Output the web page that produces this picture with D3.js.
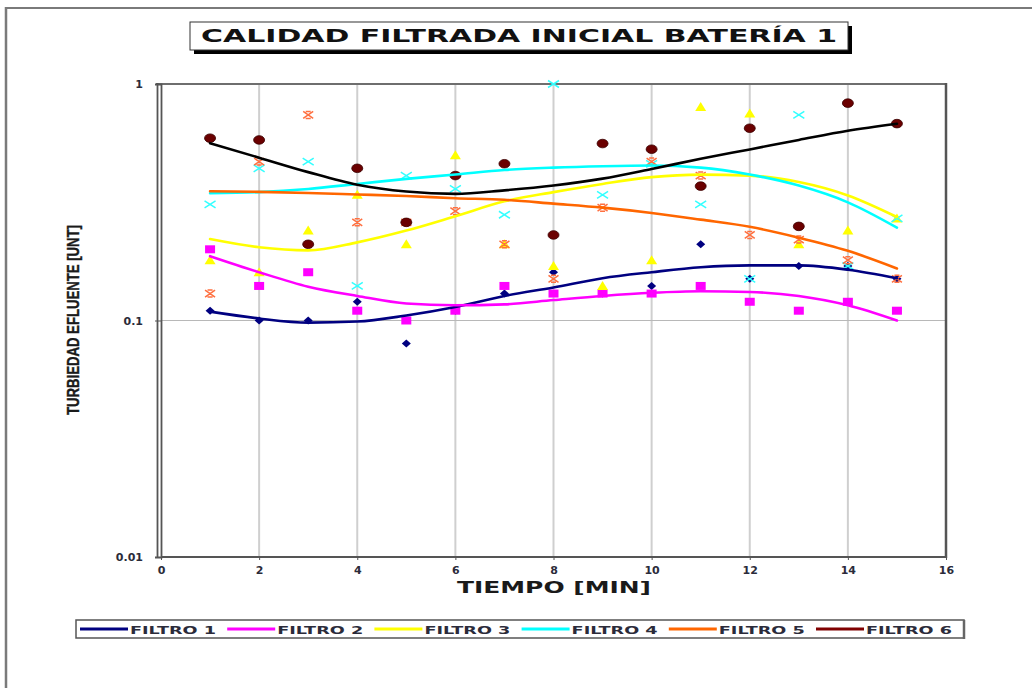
<!DOCTYPE html>
<html>
<head>
<meta charset="utf-8">
<script src="https://cdn.jsdelivr.net/npm/d3@7"></script>
<style>
  html, body { margin: 0; padding: 0; background: #fff; }
  svg { display: block; }
</style>
</head>
<body>
<svg id="chart" width="1032" height="688"></svg>
<script>
// Sampling times (minutes)
const tiempos = [1, 2, 3, 4, 5, 6, 7, 8, 9, 10, 11, 12, 13, 14, 15];

// Measured effluent turbidity per filter (UNT)
const filtro1 = [0.11, 0.10, 0.10, 0.12, 0.08, 0.11, 0.13, 0.16, 0.13, 0.14, 0.21, 0.15, 0.17, 0.17, 0.15];
const filtro2 = [0.20, 0.14, 0.16, 0.11, 0.10, 0.11, 0.14, 0.13, 0.13, 0.13, 0.14, 0.12, 0.11, 0.12, 0.11];
const filtro3 = [0.18, 0.16, 0.24, 0.34, 0.21, 0.50, 0.21, 0.17, 0.14, 0.18, 0.80, 0.75, 0.21, 0.24, 0.27];
const filtro4 = [0.31, 0.44, 0.47, 0.14, 0.41, 0.36, 0.28, 1.00, 0.34, 0.46, 0.31, 0.15, 0.74, 0.17, 0.27];
const filtro5 = [0.13, 0.47, 0.74, 0.26, 0.26, 0.29, 0.21, 0.15, 0.30, 0.47, 0.41, 0.23, 0.22, 0.18, 0.15];
const filtro6 = [0.59, 0.58, 0.21, 0.44, 0.26, 0.41, 0.46, 0.23, 0.56, 0.53, 0.37, 0.65, 0.25, 0.83, 0.68];

// Polynomial trend curves for each filter, evaluated at the sampling times
const tendencia1 = [0.109, 0.102, 0.098, 0.099, 0.105, 0.114, 0.127, 0.138, 0.151, 0.160, 0.168, 0.171, 0.171, 0.164, 0.151];
const tendencia2 = [0.187, 0.160, 0.139, 0.127, 0.118, 0.116, 0.117, 0.122, 0.127, 0.131, 0.133, 0.132, 0.127, 0.116, 0.100];
const tendencia3 = [0.221, 0.204, 0.198, 0.214, 0.240, 0.276, 0.319, 0.349, 0.378, 0.404, 0.414, 0.410, 0.385, 0.338, 0.274];
const tendencia4 = [0.345, 0.349, 0.360, 0.378, 0.397, 0.414, 0.433, 0.443, 0.449, 0.452, 0.443, 0.414, 0.372, 0.316, 0.247];
const tendencia5 = [0.352, 0.350, 0.346, 0.341, 0.336, 0.329, 0.324, 0.312, 0.300, 0.285, 0.267, 0.249, 0.224, 0.197, 0.166];
const tendencia6 = [0.562, 0.488, 0.424, 0.375, 0.351, 0.343, 0.355, 0.372, 0.398, 0.437, 0.483, 0.529, 0.580, 0.634, 0.679];

const nombres = ["FILTRO 1", "FILTRO 2", "FILTRO 3", "FILTRO 4", "FILTRO 5", "FILTRO 6"];
const ticksX = [0, 2, 4, 6, 8, 10, 12, 14, 16];
const ticksY = [0.01, 0.1, 1];
const etiquetasY = ["0.01", "0.1", "1"];

const titulo = "CALIDAD FILTRADA INICIAL BATERÍA 1";
const tituloX = "TIEMPO [MIN]";
const tituloY = "TURBIEDAD EFLUENTE [UNT]";

const series = [
  { nombre: nombres[0], valores: filtro1, tendencia: tendencia1, linea: "#000080", marca: "#000080", forma: "diamante" },
  { nombre: nombres[1], valores: filtro2, tendencia: tendencia2, linea: "#ff00ff", marca: "#ff00ff", forma: "cuadro" },
  { nombre: nombres[2], valores: filtro3, tendencia: tendencia3, linea: "#ffff00", marca: "#ffff00", forma: "triangulo" },
  { nombre: nombres[3], valores: filtro4, tendencia: tendencia4, linea: "#00ffff", marca: "#33ffff", forma: "equis" },
  { nombre: nombres[4], valores: filtro5, tendencia: tendencia5, linea: "#ff6600", marca: "#ff7040", forma: "asterisco" },
  { nombre: nombres[5], valores: filtro6, tendencia: tendencia6, linea: "#000000", marca: "#6b0000", forma: "circulo", leyenda: "#800000" }
];

const svg = d3.select("#chart");
const fontBold = "'DejaVu Sans', Verdana, sans-serif";
const colorTexto = "#2b2b3a";

// Page frame
svg.append("line").attr("x1", 5).attr("x2", 1032).attr("y1", 8).attr("y2", 8)
  .attr("stroke", "#7a7a7a").attr("stroke-width", 2);
svg.append("line").attr("x1", 6).attr("x2", 6).attr("y1", 7).attr("y2", 688)
  .attr("stroke", "#7a7a7a").attr("stroke-width", 2.5);

// Scales
const x = d3.scaleLinear().domain([0, 16]).range([161, 946]);
const y = d3.scaleLog().domain([0.01, 1]).range([557, 84]);

// Vertical gridlines
svg.append("g").selectAll("line")
  .data(ticksX.filter(t => t > 0 && t < 16))
  .join("line")
  .attr("x1", d => x(d)).attr("x2", d => x(d))
  .attr("y1", y(1)).attr("y2", y(0.01))
  .attr("stroke", "#cfcfcf").attr("stroke-width", 2);

// Horizontal gridline at 0.1
svg.append("line")
  .attr("x1", x(0)).attr("x2", x(16))
  .attr("y1", y(0.1)).attr("y2", y(0.1))
  .attr("stroke", "#b8b8b8").attr("stroke-width", 1);

// Plot area border
svg.append("line").attr("x1", 156).attr("x2", x(16)).attr("y1", y(1)).attr("y2", y(1))
  .attr("stroke", "#6e6e6e").attr("stroke-width", 2);
svg.append("line").attr("x1", x(0)).attr("x2", x(16) + 1).attr("y1", y(0.01)).attr("y2", y(0.01))
  .attr("stroke", "#555").attr("stroke-width", 2);
svg.append("line").attr("x1", x(16)).attr("x2", x(16)).attr("y1", y(1) - 1).attr("y2", y(0.01) + 1)
  .attr("stroke", "#555").attr("stroke-width", 2.5);
// Double left axis line
svg.append("line").attr("x1", 157.5).attr("x2", 157.5).attr("y1", y(1) - 1).attr("y2", y(0.01))
  .attr("stroke", "#555").attr("stroke-width", 1.8);

// Axes
const ejeY = svg.append("g").attr("transform", `translate(${x(0)},0)`)
  .call(d3.axisLeft(y).tickValues(ticksY).tickFormat((d, i) => etiquetasY[i]).tickSize(6).tickPadding(12));
ejeY.select(".domain").attr("stroke", "#555").attr("stroke-width", 1.8);
ejeY.selectAll(".tick line").attr("stroke", "#555");
ejeY.selectAll("text").attr("font-family", fontBold).attr("font-weight", "bold")
  .attr("font-size", 11).attr("fill", colorTexto);

const ejeX = svg.append("g").attr("transform", `translate(0,${y(0.01)})`)
  .call(d3.axisBottom(x).tickValues(ticksX).tickFormat(d3.format("d")).tickSize(3).tickPadding(6));
ejeX.select(".domain").remove();
ejeX.selectAll(".tick line").attr("stroke", "#555");
ejeX.selectAll("text").attr("font-family", fontBold).attr("font-weight", "bold")
  .attr("font-size", 11).attr("fill", colorTexto);

// Axis titles
svg.append("text").attr("x", 554).attr("y", 593)
  .attr("text-anchor", "middle").attr("font-family", fontBold).attr("font-weight", "bold")
  .attr("font-size", 15).attr("fill", "#1a1a1a")
  .attr("textLength", 194).attr("lengthAdjust", "spacingAndGlyphs")
  .text(tituloX);

svg.append("text")
  .attr("transform", "translate(79,320) rotate(-90)")
  .attr("text-anchor", "middle")
  .attr("font-family", "'Liberation Sans', Arial, sans-serif")
  .attr("font-weight", "bold").attr("font-size", 16).attr("fill", "#1a1a1a")
  .attr("stroke", "#1a1a1a").attr("stroke-width", 0.4)
  .attr("textLength", 190).attr("lengthAdjust", "spacingAndGlyphs")
  .text(tituloY);

// Markers
function dibujarMarca(g, forma, color, cx, cy) {
  if (forma === "diamante") {
    g.append("path").attr("d", `M${cx},${cy - 4}L${cx + 4.5},${cy}L${cx},${cy + 4}L${cx - 4.5},${cy}Z`)
      .attr("fill", color);
  } else if (forma === "cuadro") {
    g.append("rect").attr("x", cx - 5).attr("y", cy - 4).attr("width", 10).attr("height", 8).attr("fill", color);
  } else if (forma === "triangulo") {
    g.append("path").attr("d", `M${cx},${cy - 5}L${cx + 5.5},${cy + 4}L${cx - 5.5},${cy + 4}Z`)
      .attr("fill", color);
  } else if (forma === "equis") {
    g.append("path").attr("d", `M${cx - 5.5},${cy - 3.5}L${cx + 5.5},${cy + 3.5}M${cx - 5.5},${cy + 3.5}L${cx + 5.5},${cy - 3.5}`)
      .attr("stroke", color).attr("stroke-width", 1.5).attr("fill", "none");
  } else if (forma === "asterisco") {
    g.append("path").attr("d",
      `M${cx - 5},${cy - 3.5}L${cx + 5},${cy + 3.5}M${cx - 5},${cy + 3.5}L${cx + 5},${cy - 3.5}` +
      `M${cx - 2.5},${cy - 3.5}L${cx + 2.5},${cy - 3.5}M${cx - 2.5},${cy + 3.5}L${cx + 2.5},${cy + 3.5}`)
      .attr("stroke", color).attr("stroke-width", 1.5).attr("fill", "none");
  } else if (forma === "circulo") {
    g.append("ellipse").attr("cx", cx).attr("cy", cy).attr("rx", 5.5).attr("ry", 4.3)
      .attr("fill", color).attr("stroke", "#3a0000").attr("stroke-width", 0.8);
  }
}

const gMarcas = svg.append("g");
series.forEach(s => {
  s.valores.forEach((v, i) => dibujarMarca(gMarcas, s.forma, s.marca, x(tiempos[i]), y(v)));
});

// Trend curves drawn over the markers
const curva = d3.line()
  .x((d, i) => x(tiempos[i]))
  .y(d => y(d))
  .curve(d3.curveMonotoneX);

const gLineas = svg.append("g").attr("fill", "none");
series.forEach(s => {
  gLineas.append("path").attr("d", curva(s.tendencia))
    .attr("stroke", s.linea).attr("stroke-width", 2.6).attr("stroke-linecap", "round");
});

// Title box with drop shadow
const tituloBox = { x: 190, y: 22, w: 658, h: 28 };
svg.append("rect").attr("x", tituloBox.x + 4).attr("y", tituloBox.y + 4)
  .attr("width", tituloBox.w).attr("height", tituloBox.h).attr("fill", "#000");
svg.append("rect").attr("x", tituloBox.x).attr("y", tituloBox.y)
  .attr("width", tituloBox.w).attr("height", tituloBox.h)
  .attr("fill", "#fff").attr("stroke", "#333").attr("stroke-width", 1);
svg.append("text").attr("x", tituloBox.x + tituloBox.w / 2).attr("y", tituloBox.y + 20)
  .attr("text-anchor", "middle").attr("font-family", fontBold).attr("font-weight", "bold")
  .attr("font-size", 17).attr("fill", "#111")
  .attr("textLength", 636).attr("lengthAdjust", "spacingAndGlyphs")
  .text(titulo);

// Legend
const leyenda = svg.append("g");
leyenda.append("rect").attr("x", 76).attr("y", 620).attr("width", 888).attr("height", 18)
  .attr("fill", "#fff").attr("stroke", "#555").attr("stroke-width", 1.5);
leyenda.append("line").attr("x1", 964).attr("x2", 964).attr("y1", 620).attr("y2", 639)
  .attr("stroke", "#666").attr("stroke-width", 2.5);
series.forEach((s, i) => {
  const x0 = 80 + i * 147.2;
  leyenda.append("line").attr("x1", x0).attr("x2", x0 + 48).attr("y1", 629).attr("y2", 629)
    .attr("stroke", s.leyenda || s.linea).attr("stroke-width", 3);
  leyenda.append("text").attr("x", x0 + 50).attr("y", 633.5)
    .attr("font-family", fontBold).attr("font-weight", "bold").attr("font-size", 11)
    .attr("fill", colorTexto).attr("textLength", 86).attr("lengthAdjust", "spacingAndGlyphs")
    .text(s.nombre);
});
</script>
</body>
</html>
